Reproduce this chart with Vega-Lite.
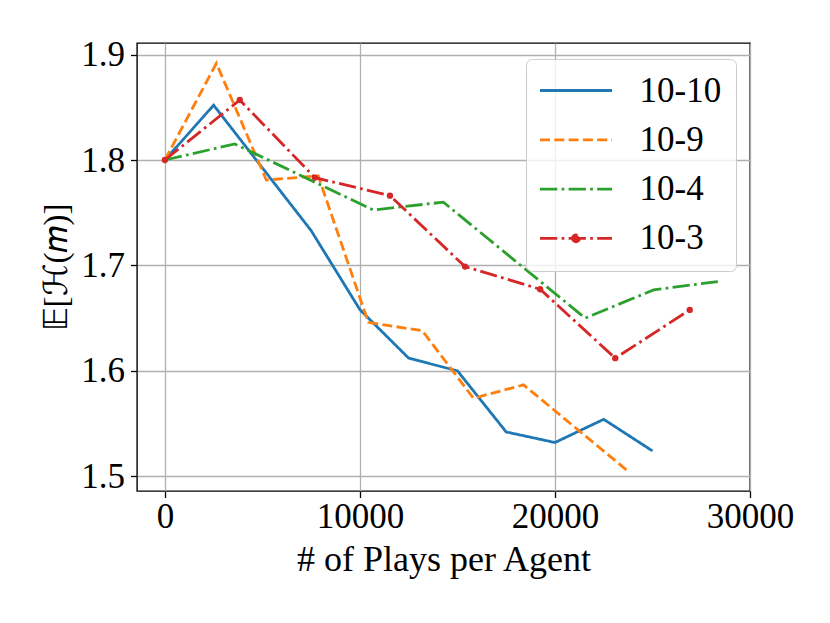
{
  "$schema": "https://vega.github.io/schema/vega-lite/v6.json",
  "width": 613,
  "height": 448,
  "autosize": {"type": "none"},
  "padding": {"left": 137, "top": 43, "right": 80, "bottom": 132},
  "background": "white",
  "config": {
    "view": {"stroke": "black", "strokeWidth": 1.4},
    "font": "Liberation Serif",
    "axis": {
      "domain": false,
      "gridColor": "#b0b0b0",
      "gridWidth": 1.3,
      "tickColor": "black",
      "tickWidth": 1.3,
      "tickSize": 6.5,
      "labelFont": "Liberation Serif",
      "labelFontSize": 35,
      "labelColor": "black",
      "titleFont": "Liberation Serif",
      "titleFontSize": 36,
      "titleFontWeight": "normal",
      "titleColor": "black"
    }
  },
  "data": {
    "values": [
      {"x": 0, "y": 1.8, "s": "10-10"},
      {"x": 2500, "y": 1.852, "s": "10-10"},
      {"x": 7500, "y": 1.733, "s": "10-10"},
      {"x": 10000, "y": 1.658, "s": "10-10"},
      {"x": 12500, "y": 1.612, "s": "10-10"},
      {"x": 15000, "y": 1.6, "s": "10-10"},
      {"x": 17500, "y": 1.542, "s": "10-10"},
      {"x": 20000, "y": 1.532, "s": "10-10"},
      {"x": 22500, "y": 1.554, "s": "10-10"},
      {"x": 25000, "y": 1.524, "s": "10-10"},
      {"x": 0, "y": 1.8, "s": "10-9"},
      {"x": 2640, "y": 1.8917, "s": "10-9"},
      {"x": 5200, "y": 1.781, "s": "10-9"},
      {"x": 7860, "y": 1.785, "s": "10-9"},
      {"x": 10430, "y": 1.646, "s": "10-9"},
      {"x": 13200, "y": 1.638, "s": "10-9"},
      {"x": 15820, "y": 1.574, "s": "10-9"},
      {"x": 18390, "y": 1.5867, "s": "10-9"},
      {"x": 23700, "y": 1.5055, "s": "10-9"},
      {"x": 0, "y": 1.8, "s": "10-4"},
      {"x": 3580, "y": 1.8152, "s": "10-4"},
      {"x": 10680, "y": 1.7526, "s": "10-4"},
      {"x": 14280, "y": 1.76, "s": "10-4"},
      {"x": 21550, "y": 1.65, "s": "10-4"},
      {"x": 25060, "y": 1.6768, "s": "10-4"},
      {"x": 28350, "y": 1.6847, "s": "10-4"},
      {"x": 0, "y": 1.8, "s": "10-3"},
      {"x": 3840, "y": 1.8569, "s": "10-3"},
      {"x": 7690, "y": 1.7833, "s": "10-3"},
      {"x": 11540, "y": 1.7662, "s": "10-3"},
      {"x": 15390, "y": 1.6989, "s": "10-3"},
      {"x": 19240, "y": 1.6774, "s": "10-3"},
      {"x": 23090, "y": 1.612, "s": "10-3"},
      {"x": 26910, "y": 1.6578, "s": "10-3"}
    ]
  },
  "encoding": {
    "x": {
      "field": "x", "type": "quantitative",
      "scale": {"domain": [-1430, 30000], "nice": false, "zero": false},
      "axis": {"values": [0, 10000, 20000, 30000], "format": "d", "labelPadding": 2, "title": "# of Plays per Agent", "titlePadding": 8, "labelFlush": false}
    },
    "y": {
      "field": "y", "type": "quantitative",
      "scale": {"domain": [1.486, 1.911], "nice": false, "zero": false},
      "axis": {"values": [1.5, 1.6, 1.7, 1.8, 1.9], "format": ".1f", "labelPadding": 6, "title": "𝔼[ℋ(𝑚)]", "titleFontSize": 33, "titlePadding": 7}
    }
  },
  "layer": [
    {
      "mark": {"type": "line", "strokeWidth": 2.8},
      "encoding": {
        "color": {
          "field": "s", "type": "nominal",
          "scale": {"domain": ["10-10", "10-9", "10-4", "10-3"], "range": ["#1f77b4", "#ff7f0e", "#2ca02c", "#d62728"]},
          "legend": {
            "title": null,
            "orient": "none",
            "legendX": 389,
            "legendY": 16,
            "padding": 14,
            "fillColor": "rgba(255,255,255,0.8)",
            "strokeColor": "#cccccc",
            "cornerRadius": 6,
            "labelFont": "Liberation Serif",
            "labelFontSize": 35,
            "labelColor": "black",
            "symbolOffset": 18.5,
            "labelOffset": 46,
            "rowPadding": 13.3,
            "symbolSize": 576,
            "symbolStrokeWidth": 2.8,
            "encode": {
              "symbols": {
                "update": {
                  "shape": [
                    {"test": "datum.value === '10-3'", "value": "M-3,0H3M0.29,0A0.29,0.29 0 1 1 -0.29,0A0.29,0.29 0 1 1 0.29,0Z"},
                    {"value": "M-3,0H3"}
                  ],
                  "fill": [
                    {"test": "datum.value === '10-3'", "value": "#d62728"},
                    {"value": "transparent"}
                  ],
                  "size": {"value": 576}
                }
              }
            }
          }
        },
        "strokeDash": {
          "field": "s", "type": "nominal",
          "scale": {"domain": ["10-10", "10-9", "10-4", "10-3"], "range": [[1, 0], [10, 4.3], [17.3, 4.3, 2.7, 4.3], [17.3, 4.3, 2.7, 4.3]]},
          "legend": {
            "title": null,
            "orient": "none",
            "legendX": 389,
            "legendY": 16,
            "padding": 14,
            "fillColor": "rgba(255,255,255,0.8)",
            "strokeColor": "#cccccc",
            "cornerRadius": 6,
            "labelFont": "Liberation Serif",
            "labelFontSize": 35,
            "labelColor": "black",
            "symbolOffset": 18.5,
            "labelOffset": 46,
            "rowPadding": 13.3,
            "symbolSize": 576,
            "symbolStrokeWidth": 2.8
          }
        }
      }
    },
    {
      "transform": [{"filter": "datum.s === '10-3'"}],
      "mark": {"type": "point", "filled": true, "shape": "circle", "size": 40, "color": "#d62728", "opacity": 1}
    }
  ]
}
